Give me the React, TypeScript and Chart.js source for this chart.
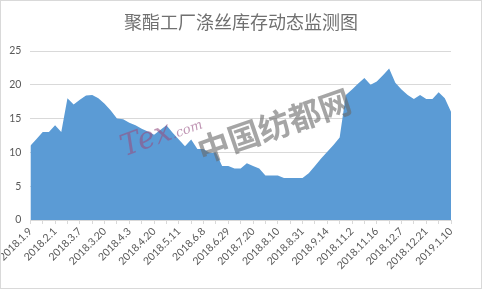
import React, { useEffect, useRef } from "react";
import { Chart, registerables } from "chart.js";

Chart.register(...registerables);

const TITLE = "聚酯工厂涤丝库存动态监测图";

// Dates printed on the x axis (every 4th sample)
const SHOWN_DATES = [
  "2018.1.9", "2018.2.1", "2018.3.7", "2018.3.20", "2018.4.3", "2018.4.20",
  "2018.5.11", "2018.6.8", "2018.6.29", "2018.7.20", "2018.8.10", "2018.8.31",
  "2018.9.14", "2018.11.2", "2018.11.16", "2018.12.7", "2018.12.21", "2019.1.10",
];

// Inventory (days), one value per sample
const INVENTORY = [
  11, 12, 13, 13, 14, 13, 18, 17.1, 17.8, 18.4,
  18.5, 18.0, 17.2, 16.2, 15.0, 14.9, 14.4, 14.0, 13.5, 13.1,
  12.6, 13.3, 14.0, 12.9, 11.9, 10.9, 11.9, 10.5, 10.5, 9.9,
  10.0, 8.0, 8.0, 7.6, 7.6, 8.4, 8.0, 7.6, 6.6, 6.6,
  6.6, 6.2, 6.2, 6.2, 6.2, 6.9, 8.0, 9.1, 10.1, 11.1,
  12.2, 18.5, 19.3, 20.2, 21.0, 20.0, 20.5, 21.4, 22.4, 20.3,
  19.3, 18.5, 17.9, 18.5, 17.9, 17.9, 18.9, 18.0, 16.0,
];

const Y_MIN = 0;
const Y_MAX = 25;
const Y_STEP = 5;

const LABEL_EVERY = 4;
const TICK_EVERY = 2;

const CATEGORIES = INVENTORY.map((_, i) =>
  i % LABEL_EVERY === 0 ? SHOWN_DATES[i / LABEL_EVERY] ?? "" : ""
);

export default function App() {
  const canvasRef = useRef<HTMLCanvasElement | null>(null);

  useEffect(() => {
    const canvas = canvasRef.current;
    if (!canvas) return;
    const chart = new Chart(canvas, {
      type: "line",
      data: {
        labels: CATEGORIES,
        datasets: [
          {
            label: "库存",
            data: INVENTORY,
            fill: "origin",
            backgroundColor: "#5B9BD5",
            borderWidth: 0,
            borderColor: "rgba(0,0,0,0)",
            pointRadius: 0,
            tension: 0,
          },
        ],
      },
      options: {
        animation: false,
        responsive: false,
        devicePixelRatio: 1,
        layout: { padding: { top: 51, right: 31, left: 0, bottom: 0 } },
        plugins: {
          legend: { display: false },
          title: { display: false },
          tooltip: { enabled: false },
        },
        scales: {
          x: {
            type: "category",
            offset: false,
            afterFit: (scale: any) => {
              scale.height = 69;
            },
            border: { display: true, color: "#d9d9d9", width: 1 },
            grid: {
              drawOnChartArea: false,
              drawTicks: true,
              tickLength: 4,
              tickColor: (ctx: any) =>
                ctx.index % TICK_EVERY === 0 ? "#d9d9d9" : "rgba(0,0,0,0)",
              color: "#d9d9d9",
            },
            ticks: {
              autoSkip: false,
              maxRotation: 45,
              minRotation: 45,
              padding: 1,
              color: "#595959",
              font: { family: "Lato, 'Noto Sans', sans-serif", size: 10.5 },
            },
          },
          y: {
            min: Y_MIN,
            max: Y_MAX,
            afterFit: (scale: any) => {
              scale.width = 30;
            },
            border: { display: false },
            grid: { color: "#d9d9d9", drawTicks: false, lineWidth: 1 },
            ticks: {
              stepSize: Y_STEP,
              padding: 9,
              color: "#595959",
              font: { family: "Lato, 'Noto Sans', sans-serif", size: 10.5 },
            },
          },
        },
      },
    });
    return () => chart.destroy();
  }, []);

  return (
    <div
      style={{
        position: "fixed",
        left: 0,
        top: 0,
        width: 482,
        height: 289,
        background: "#ffffff",
        overflow: "hidden",
      }}
    >
      <canvas
        ref={canvasRef}
        width={482}
        height={289}
        style={{ position: "absolute", left: 0, top: 0, width: 482, height: 289 }}
      />
      <div
        style={{
          position: "absolute",
          left: 12,
          top: 12,
          width: 482,
          textAlign: "center",
          fontFamily: "'Noto Sans CJK SC', sans-serif",
          fontSize: 18,
          lineHeight: "18px",
          color: "#707070",
          fontWeight: 400,
          marginLeft: -12,
        }}
      >
        {TITLE}
      </div>
      <div
        style={{
          position: "absolute",
          left: 198,
          top: 133,
          transform: "rotate(-19deg)",
          transformOrigin: "left center",
          fontFamily: "'Noto Sans CJK SC', sans-serif",
          fontSize: 32,
          fontWeight: 700,
          lineHeight: "34px",
          color: "rgba(105,105,105,0.6)",
          whiteSpace: "nowrap",
          pointerEvents: "none",
        }}
      >
        中国纺都网
      </div>
      <div
        style={{
          position: "absolute",
          left: 122,
          top: 132,
          transform: "rotate(-20deg)",
          transformOrigin: "left center",
          fontFamily: "'DejaVu Serif', serif",
          fontStyle: "italic",
          fontSize: 30,
          lineHeight: "30px",
          color: "rgba(150,80,130,0.6)",
          whiteSpace: "nowrap",
          pointerEvents: "none",
        }}
      >
        Tex<span style={{ fontSize: 13 }}>.com</span>
      </div>
      <div
        style={{
          position: "absolute",
          left: 0,
          top: 0,
          width: 482,
          height: 289,
          boxSizing: "border-box",
          border: "1px solid #d9d9d9",
          pointerEvents: "none",
        }}
      />
    </div>
  );
}
